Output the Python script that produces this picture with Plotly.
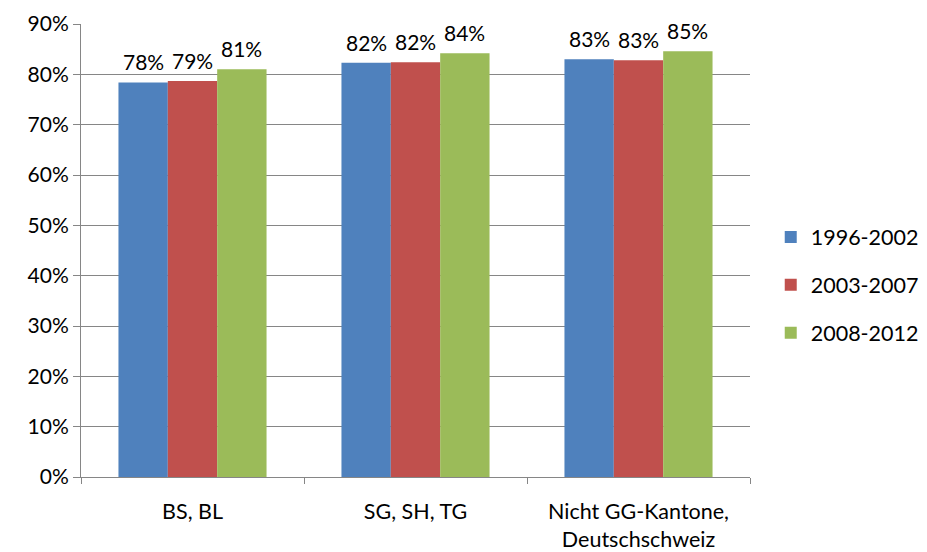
import plotly.graph_objects as go

categories = ["BS, BL", "SG, SH, TG", "Nicht GG-Kantone,<br>Deutschschweiz"]
series_names = ["1996-2002", "2003-2007", "2008-2012"]
s1996 = [78.4, 82.3, 83.0]
s2003 = [78.7, 82.4, 82.8]
s2008 = [81.0, 84.2, 84.6]
colors = ["#4F81BD", "#C0504D", "#9BBB59"]
y_ticks = [0, 10, 20, 30, 40, 50, 60, 70, 80, 90]
y_ticklabels = [f"{t}%" for t in y_ticks]

FONT = "Lato, 'Open Sans', sans-serif"
FS = 21

W, H = 919, 544
ML, MR, MT, MB = 73, 177, 16, 75
BARGAP = 0.336

fig = go.Figure()
all_series = [s1996, s2003, s2008]
for name, vals, col in zip(series_names, all_series, colors):
    fig.add_trace(go.Bar(
        x=categories, y=vals, name=name, legendgroup=name,
        marker=dict(color=col, line=dict(width=0)),
        cliponaxis=False,
    ))

# data labels as annotations positioned over each grouped bar
plot_w = W - ML - MR
cat_w = plot_w / len(categories)
bar_w = cat_w * (1 - BARGAP) / len(all_series)
for i, vals in enumerate(all_series):
    off = (i - (len(all_series) - 1) / 2) * bar_w
    for cat, v in zip(categories, vals):
        fig.add_annotation(
            x=cat, y=v, xref="x", yref="y", text=f"{v:.0f}%",
            showarrow=False, xshift=off, yshift=6, yanchor="bottom",
            font=dict(size=FS, family=FONT, color="black"),
        )

fig.update_layout(
    template="none",
    width=W, height=H,
    margin=dict(l=ML, r=MR, t=MT, b=MB, autoexpand=False),
    paper_bgcolor="white", plot_bgcolor="white",
    barmode="group", bargap=BARGAP, bargroupgap=0,
    font=dict(family=FONT, size=FS, color="black"),
    showlegend=True,
    legend=dict(x=1.031, y=0.424, xanchor="left", yanchor="middle",
                font=dict(size=21.5, family=FONT), tracegroupgap=17,
                itemwidth=30, bgcolor="rgba(0,0,0,0)"),
    xaxis=dict(showline=True, linecolor="#868686", linewidth=1,
               ticks="outside", tickson="boundaries", ticklen=6,
               tickcolor="#868686", showgrid=False, automargin=False,
               ticklabelstandoff=15,
               tickfont=dict(size=21.5, family=FONT)),
    yaxis=dict(range=[0, 90], tickvals=y_ticks, ticktext=y_ticklabels,
               showline=True, linecolor="#868686", linewidth=1,
               showgrid=True, gridcolor="#868686", gridwidth=1,
               ticks="outside", ticklen=7, tickcolor="#868686",
               zeroline=False, automargin=False,
               tickfont=dict(size=FS, family=FONT)),
)

fig.write_html("out.html")
